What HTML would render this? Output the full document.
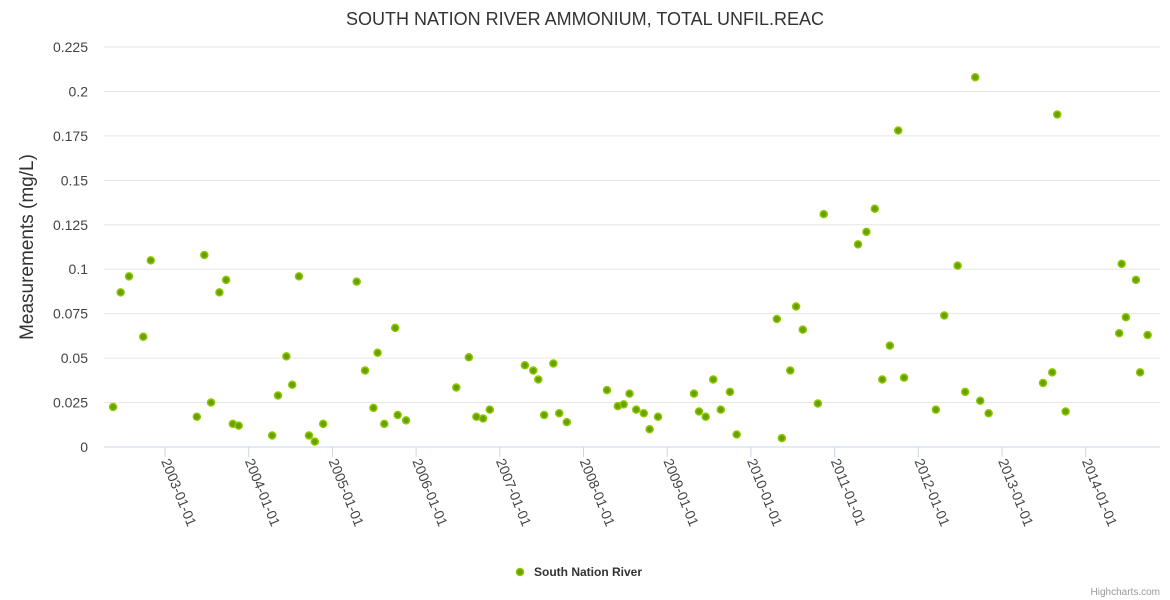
<!DOCTYPE html>
<html><head><meta charset="utf-8">
<style>
html,body{margin:0;padding:0;background:#fff;}
svg{display:block;font-family:"Liberation Sans","DejaVu Sans",sans-serif;}
</style></head>
<body>
<svg id="chart" width="1170" height="600">
<text x="585" y="25" text-anchor="middle" font-size="18" fill="#333">SOUTH NATION RIVER AMMONIUM, TOTAL UNFIL.REAC</text>
<g id="grid"></g>
<g id="yticks"></g>
<text transform="translate(33,247) rotate(-90)" text-anchor="middle" font-size="19" fill="#333">Measurements (mg/L)</text>
<line x1="104" y1="447" x2="1160" y2="447" stroke="#ccd6eb" stroke-width="1"/>
<g id="xticks"></g>
<g id="points"></g>
<g>
<circle cx="520" cy="572" r="3.5" fill="#6a9f00" stroke="#8cc800" stroke-width="1.5"/>
<text x="534" y="576" font-size="12" font-weight="bold" fill="#333">South Nation River</text>
</g>
<text x="1160" y="595" text-anchor="end" font-size="10" fill="#999">Highcharts.com</text>
</svg>
<script>
const yTicks = [0,0.025,0.05,0.075,0.1,0.125,0.15,0.175,0.2,0.225];
const yTickLabels = ["0","0.025","0.05","0.075","0.1","0.125","0.15","0.175","0.2","0.225"];
const xTicks = [2003,2004,2005,2006,2007,2008,2009,2010,2011,2012,2013,2014];
const xTickLabels = ["2003-01-01","2004-01-01","2005-01-01","2006-01-01","2007-01-01","2008-01-01","2009-01-01","2010-01-01","2011-01-01","2012-01-01","2013-01-01","2014-01-01"];
const dates = [2002.38,2002.47,2002.57,2002.74,2002.83,2003.38,2003.47,2003.55,2003.65,2003.73,2003.81,2003.88,2004.28,2004.35,2004.45,2004.52,2004.60,2004.72,2004.79,2004.89,2005.29,2005.39,2005.49,2005.54,2005.62,2005.75,2005.78,2005.88,2006.48,2006.63,2006.72,2006.80,2006.88,2007.30,2007.40,2007.46,2007.53,2007.64,2007.71,2007.80,2008.28,2008.41,2008.48,2008.55,2008.63,2008.72,2008.79,2008.89,2009.32,2009.38,2009.46,2009.55,2009.64,2009.75,2009.83,2010.31,2010.37,2010.47,2010.54,2010.62,2010.80,2010.87,2011.28,2011.38,2011.48,2011.57,2011.66,2011.76,2011.83,2012.21,2012.31,2012.47,2012.56,2012.68,2012.74,2012.84,2013.49,2013.60,2013.66,2013.76,2014.40,2014.43,2014.48,2014.60,2014.65,2014.74];
const values = [0.0225,0.087,0.096,0.062,0.105,0.017,0.108,0.025,0.087,0.094,0.013,0.012,0.0065,0.029,0.051,0.035,0.096,0.0065,0.003,0.013,0.093,0.043,0.022,0.053,0.013,0.067,0.018,0.015,0.0335,0.0505,0.017,0.016,0.021,0.046,0.043,0.038,0.018,0.047,0.019,0.014,0.032,0.023,0.024,0.030,0.021,0.019,0.010,0.017,0.030,0.020,0.017,0.038,0.021,0.031,0.007,0.072,0.005,0.043,0.079,0.066,0.0245,0.131,0.114,0.121,0.134,0.038,0.057,0.178,0.039,0.021,0.074,0.102,0.031,0.208,0.026,0.019,0.036,0.042,0.187,0.020,0.064,0.103,0.073,0.094,0.042,0.063];

const NS="http://www.w3.org/2000/svg";
const xScale = d => 165 + (d-2003)*83.7;
const yScale = v => 447 - v*1777.8;
const mk = (t,a,p) => { const e=document.createElementNS(NS,t); for(const k in a) e.setAttribute(k,a[k]); p.appendChild(e); return e; };
const grid=document.getElementById('grid'), yt=document.getElementById('yticks'), xt=document.getElementById('xticks'), pts=document.getElementById('points');
yTicks.forEach((v,i)=>{
  if(v!==0){
    const l=mk('line',{x1:104,x2:1160,y1:yScale(v),y2:yScale(v),stroke:'#e6e6e6','stroke-width':1},grid);
    
    
  }
  const t=mk('text',{x:88,y:yScale(v)+5,'text-anchor':'end','font-size':14,fill:'#444'},yt);
  t.textContent=yTickLabels[i];
  
  
});
xTicks.forEach((d,i)=>{
  const x=xScale(d);
  const tk=mk('line',{x1:x,x2:x,y1:447,y2:457,stroke:'#ccd6eb'},xt);
  
  
  const t=mk('text',{x:0,y:0,'font-size':14,fill:'#444',transform:`translate(${x-4},${461}) rotate(68)`},xt);
  t.textContent=xTickLabels[i];
  
  
});
dates.forEach((d,i)=>{
  const c=mk('circle',{cx:xScale(d),cy:yScale(values[i]),r:3.5,fill:'#6a9f00',stroke:'#8cc800','stroke-width':1.5},pts);
  
  
});
</script>
</body></html>
